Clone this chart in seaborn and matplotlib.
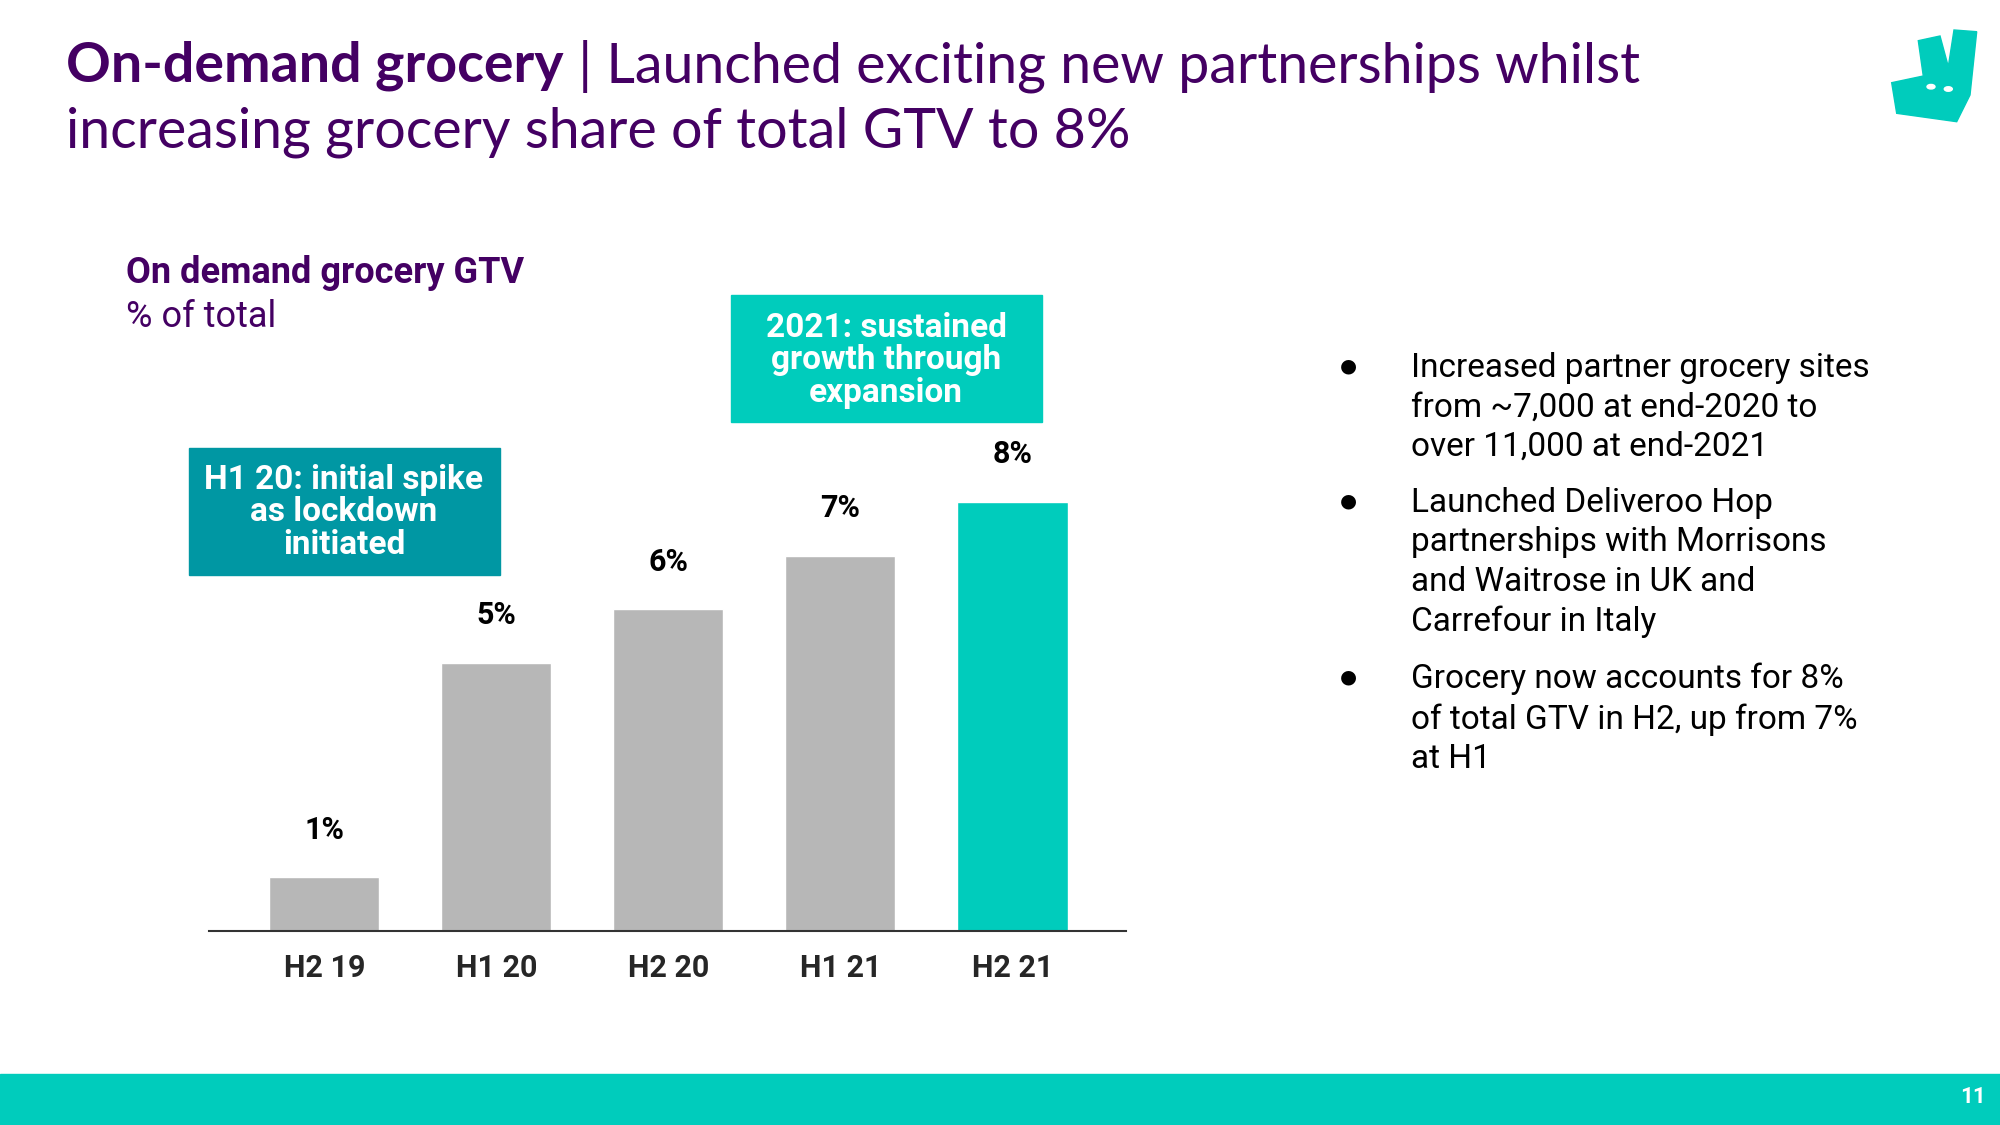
import matplotlib
matplotlib.use("Agg")
import matplotlib.pyplot as plt
import pandas as pd
import seaborn as sns
from matplotlib.patches import Polygon, Circle, Rectangle

PURPLE = "#440063"
TEAL = "#00CCBC"
DARK_TEAL = "#0097A3"
GREY = "#B7B7B7"

periods = ["H2 19", "H1 20", "H2 20", "H1 21", "H2 21"]
share_pct = [1, 5, 6, 7, 8]
bar_colors = [GREY, GREY, GREY, GREY, TEAL]

title_bold = "On-demand grocery"
title_rest = " | Launched exciting new partnerships whilst"
title_line2 = "increasing grocery share of total GTV to 8%"
chart_title = "On demand grocery GTV"
chart_sub = "% of total"
box_h1 = "H1 20: initial spike\nas lockdown\ninitiated"
box_2021 = "2021: sustained\ngrowth through\nexpansion"
bullets = [
    "Increased partner grocery sites\nfrom ~7,000 at end-2020 to\nover 11,000 at end-2021",
    "Launched Deliveroo Hop\npartnerships with Morrisons\nand Waitrose in UK and\nCarrefour in Italy",
    "Grocery now accounts for 8%\nof total GTV in H2, up from 7%\nat H1",
]
page_no = "11"

sns.set_style("white")
plt.rcParams["font.family"] = ["Roboto", "DejaVu Sans"]

W, H = 2000, 1125
fig = plt.figure(figsize=(20, 11.25), dpi=100)


def fx(px):
    return px / W


def fy(py):
    return 1 - py / H


# ---- bar chart ----
ax = fig.add_axes([fx(209), fy(931), fx(1126) - fx(209), 536 / H])
df = pd.DataFrame({"period": periods, "share": share_pct})
sns.barplot(data=df, x="period", y="share", hue="period", palette=bar_colors,
            legend=False, width=0.64, saturation=1, ax=ax)
ax.set_xlim(-0.67, 4.66)
ax.set_ylim(0, 10)
ax.set_xlabel("")
ax.set_ylabel("")
ax.set_yticks([])
for s in ["top", "left", "right"]:
    ax.spines[s].set_visible(False)
ax.spines["bottom"].set_color("#333333")
ax.spines["bottom"].set_linewidth(1.5)
ax.tick_params(axis="x", length=0, pad=15.5, labelsize=22)
for lab in ax.get_xticklabels():
    lab.set_fontweight("bold")
for i, v in enumerate(share_pct):
    ax.text(i, v + 0.89, f"{v}%", ha="center", va="center",
            fontsize=22, fontweight="bold", color="black")

# ---- title ----
renderer = fig.canvas.get_renderer()
title_font = ["Lato", "DejaVu Sans"]
t1 = fig.text(fx(66), fy(66), title_bold, fontsize=40, fontweight="bold",
              color=PURPLE, va="center", ha="left", family=title_font)
bb = t1.get_window_extent(renderer)
fig.text(bb.x1 / W, fy(66), title_rest, fontsize=40, color=PURPLE,
         va="center", ha="left", family=title_font)
fig.text(fx(66), fy(132), title_line2, fontsize=40, color=PURPLE,
         va="center", ha="left", family=title_font)

# ---- chart heading ----
fig.text(fx(126), fy(273), chart_title, fontsize=26, fontweight="bold",
         color=PURPLE, va="center", ha="left")
fig.text(fx(126), fy(317), chart_sub, fontsize=26, color=PURPLE,
         va="center", ha="left")

# ---- annotation boxes ----
fig.patches.append(Rectangle((fx(189), fy(575)), fx(500) - fx(189), (575 - 448) / H,
                             transform=fig.transFigure, color=DARK_TEAL, zorder=0))
fig.text(fx(344), fy(512), box_h1, fontsize=24, fontweight="bold", color="white",
         ha="center", va="center", linespacing=1.02)
fig.patches.append(Rectangle((fx(731), fy(422)), fx(1042) - fx(731), (422 - 295) / H,
                             transform=fig.transFigure, color=TEAL, zorder=0))
fig.text(fx(886), fy(360), box_2021, fontsize=24, fontweight="bold", color="white",
         ha="center", va="center", linespacing=1.02)

# ---- bullets ----
bullet_tops = [366, 501, 677]
for y0, txt in zip(bullet_tops, bullets):
    fig.text(fx(1348), fy(y0), "\u25CF", fontsize=14, color="black",
             ha="center", va="center", family=["DejaVu Sans"])
    fig.text(fx(1411), fy(y0 - 14), txt, fontsize=24, color="black",
             ha="left", va="top", linespacing=1.3)

# ---- footer bar ----
fig.patches.append(Rectangle((0, 0), 1, (H - 1074) / H, transform=fig.transFigure,
                             color=TEAL, zorder=0))
fig.text(fx(1973), fy(1097), page_no, fontsize=16, fontweight="bold", color="white",
         ha="center", va="center")

# ---- logo ----
logo_pts = [(1891.7, 82.7), (1923.3, 76), (1918.3, 40.7), (1940, 36), (1948.3, 66.7),
            (1954, 30), (1976.7, 31.7), (1970, 95), (1956.7, 121.7), (1896.7, 113.3)]
fig.patches.append(Polygon([(fx(x), fy(y)) for x, y in logo_pts], closed=True,
                           transform=fig.transFigure, color=TEAL))
for ex, ey in [(1931, 86.7), (1948.3, 89)]:
    fig.patches.append(Circle((fx(ex), fy(ey)), 4 / W, transform=fig.transFigure,
                              color="white"))

fig.savefig("out.png", dpi=100)
